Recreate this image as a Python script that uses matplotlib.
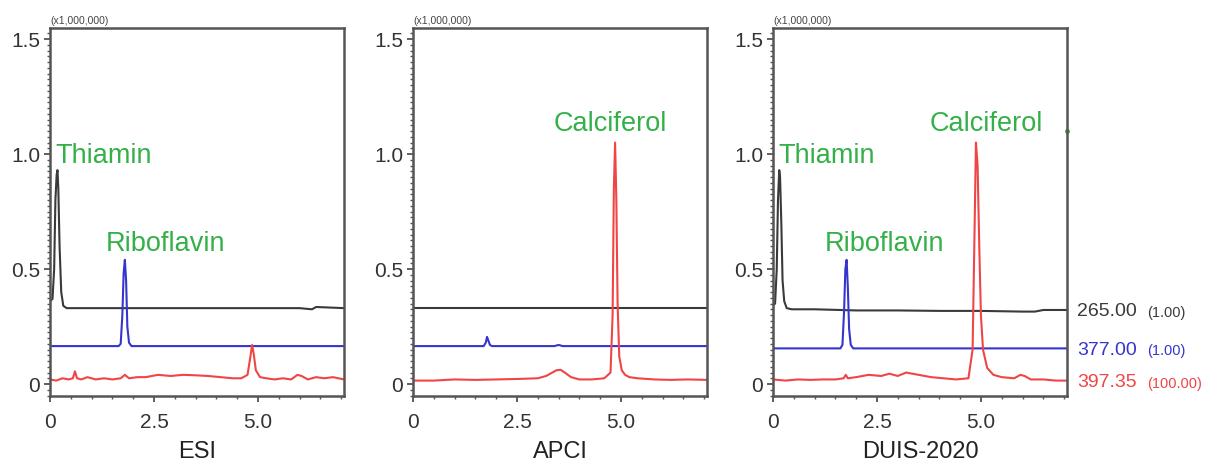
import numpy as np
import matplotlib
matplotlib.use('Agg')
import matplotlib.pyplot as plt
from matplotlib.ticker import MultipleLocator, FixedLocator

plt.rcParams['font.family'] = ['Liberation Sans', 'DejaVu Sans']

# retention time (min) / intensity (x1,000,000) breakpoints
panel_titles = ['ESI', 'APCI', 'DUIS-2020']

# --- ESI ---
esi_black_t = [0, 0.06, 0.1, 0.13, 0.16, 0.18, 0.2, 0.23, 0.27, 0.32, 0.4, 1.0, 2.0, 3.0, 4.0, 5.0, 6.0, 6.3, 6.4, 7.07]
esi_black_y = [0.36, 0.37, 0.5, 0.8, 0.91, 0.93, 0.85, 0.6, 0.4, 0.34, 0.33, 0.33, 0.33, 0.33, 0.33, 0.33, 0.33, 0.325, 0.335, 0.33]
esi_blue_t = [0, 1.65, 1.7, 1.74, 1.77, 1.8, 1.83, 1.86, 1.9, 1.96, 7.07]
esi_blue_y = [0.165, 0.165, 0.175, 0.3, 0.48, 0.54, 0.45, 0.25, 0.18, 0.165, 0.165]
esi_red_t = [0, 0.15, 0.3, 0.45, 0.55, 0.6, 0.65, 0.75, 0.9, 1.1, 1.3, 1.5, 1.7, 1.8, 1.9, 2.1, 2.3, 2.6, 2.9, 3.2,
             3.5, 3.8, 4.1, 4.4, 4.6, 4.75, 4.82, 4.86, 4.9, 4.95, 5.05, 5.2, 5.4, 5.6, 5.8, 5.95, 6.05, 6.2, 6.4, 6.6, 6.8, 7.07]
esi_red_y = [0.02, 0.015, 0.025, 0.02, 0.025, 0.055, 0.025, 0.02, 0.03, 0.02, 0.025, 0.02, 0.025, 0.04, 0.025, 0.03, 0.03, 0.04, 0.035, 0.04,
             0.038, 0.035, 0.03, 0.025, 0.025, 0.04, 0.12, 0.17, 0.13, 0.06, 0.03, 0.025, 0.02, 0.025, 0.02, 0.04, 0.035, 0.02, 0.03, 0.025, 0.03, 0.02]

# --- APCI ---
apci_black_t = [0, 7.07]
apci_black_y = [0.33, 0.33]
apci_blue_t = [0, 1.7, 1.75, 1.78, 1.81, 1.85, 1.9, 3.4, 3.5, 3.6, 7.07]
apci_blue_y = [0.165, 0.165, 0.18, 0.205, 0.19, 0.17, 0.165, 0.165, 0.17, 0.165, 0.165]
apci_red_t = [0, 0.5, 1.0, 1.5, 2.0, 2.5, 3.0, 3.2, 3.35, 3.45, 3.55, 3.65, 3.8, 4.0, 4.3, 4.6, 4.75, 4.8, 4.83, 4.86,
              4.89, 4.92, 4.96, 5.02, 5.1, 5.2, 5.4, 5.8, 6.2, 6.6, 7.07]
apci_red_y = [0.015, 0.015, 0.02, 0.018, 0.02, 0.022, 0.025, 0.035, 0.05, 0.06, 0.062, 0.05, 0.03, 0.02, 0.02, 0.025, 0.05, 0.3, 0.85, 1.05,
              0.8, 0.35, 0.12, 0.06, 0.04, 0.03, 0.025, 0.02, 0.018, 0.02, 0.018]

# --- DUIS-2020 ---
duis_black_t = [0, 0.05, 0.09, 0.12, 0.15, 0.17, 0.2, 0.23, 0.27, 0.33, 0.45, 1.0, 2.0, 3.0, 4.0, 5.0, 6.0, 6.3, 6.5, 7.07]
duis_black_y = [0.34, 0.35, 0.5, 0.8, 0.93, 0.9, 0.7, 0.45, 0.36, 0.33, 0.325, 0.325, 0.32, 0.32, 0.318, 0.318, 0.315, 0.315, 0.322, 0.322]
duis_blue_t = [0, 1.62, 1.67, 1.71, 1.74, 1.77, 1.8, 1.83, 1.87, 1.93, 7.07]
duis_blue_y = [0.155, 0.155, 0.17, 0.32, 0.5, 0.54, 0.42, 0.24, 0.17, 0.155, 0.155]
duis_red_t = [0, 0.3, 0.6, 0.9, 1.2, 1.5, 1.7, 1.75, 1.8, 2.0, 2.3, 2.6, 2.8, 3.0, 3.2, 3.35, 3.5, 3.8, 4.1, 4.4,
              4.7, 4.8, 4.85, 4.88, 4.92, 4.96, 5.0, 5.05, 5.15, 5.3, 5.5, 5.8, 5.95, 6.05, 6.2, 6.5, 6.8, 7.07]
duis_red_y = [0.02, 0.015, 0.02, 0.018, 0.02, 0.02, 0.025, 0.04, 0.025, 0.03, 0.04, 0.035, 0.045, 0.035, 0.05, 0.045, 0.04, 0.03, 0.025, 0.02,
              0.025, 0.15, 0.7, 1.05, 0.95, 0.6, 0.3, 0.15, 0.07, 0.04, 0.03, 0.025, 0.04, 0.035, 0.02, 0.02, 0.015, 0.015]

traces = [
    [(esi_black_t, esi_black_y), (esi_blue_t, esi_blue_y), (esi_red_t, esi_red_y)],
    [(apci_black_t, apci_black_y), (apci_blue_t, apci_blue_y), (apci_red_t, apci_red_y)],
    [(duis_black_t, duis_black_y), (duis_blue_t, duis_blue_y), (duis_red_t, duis_red_y)],
]

# compound labels: (text, x, y baseline) per panel
labels = [
    [('Thiamin', 0.12, 0.96), ('Riboflavin', 1.33, 0.58)],
    [('Calciferol', 3.38, 1.10)],
    [('Thiamin', 0.12, 0.96), ('Riboflavin', 1.25, 0.58), ('Calciferol', 3.77, 1.10)],
]

mz_labels = ['265.00', '377.00', '397.35']
mz_scales = ['(1.00)', '(1.00)', '(100.00)']
mz_ypos = [0.315, 0.148, 0.005]

trace_colors = ['#3a3a3a', '#3535cc', '#f04545']
green = '#33b048'

fig = plt.figure(figsize=(12.13, 4.65), dpi=100)
lefts = [50, 413, 773]
for i in range(3):
    ax = fig.add_axes([lefts[i] / 1213., 69 / 465., 294 / 1213., 368 / 465.])
    for (t, y), c in zip(traces[i], trace_colors):
        ax.plot(t, y, color=c, lw=1.5)
    for txt, x, y in labels[i]:
        ax.text(x, y, txt, color=green, fontsize=19.5, ha='left', va='baseline')
    ax.set_xlim(0, 7.07)
    ax.set_ylim(-0.052, 1.548)
    ax.xaxis.set_major_locator(FixedLocator([0, 2.5, 5.0]))
    ax.set_xticklabels(['0', '2.5', '5.0'])
    ax.xaxis.set_minor_locator(MultipleLocator(0.5))
    ax.yaxis.set_major_locator(FixedLocator([0, 0.5, 1.0, 1.5]))
    ax.set_yticklabels(['0', '0.5', '1.0', '1.5'])
    ax.yaxis.set_minor_locator(MultipleLocator(0.025))
    ax.tick_params(which='major', direction='out', length=4, width=1.2, labelsize=15,
                   colors='#444444', labelcolor='#333333', pad=3)
    ax.tick_params(which='minor', direction='out', length=2.5, width=1, colors='#555555')
    ax.tick_params(axis='x', which='major', pad=8)
    for s in ax.spines.values():
        s.set_color('#555555')
        s.set_linewidth(1.8)
    ax.set_xlabel(panel_titles[i], fontsize=17, color='#222222', labelpad=7)
    ax.text(0.0, 1.005, '(x1,000,000)', transform=ax.transAxes, fontsize=7.5, color='#444444',
            ha='left', va='bottom')
    if i == 2:
        for lab, sc, yp, c in zip(mz_labels, mz_scales, mz_ypos, trace_colors):
            ax.annotate(lab, xy=(1.0, yp), xycoords=('axes fraction', 'data'), xytext=(7, 0),
                        textcoords='offset points', fontsize=14, color=c, va='center', ha='left')
            ax.annotate(sc, xy=(1.0, yp), xycoords=('axes fraction', 'data'), xytext=(58, -1),
                        textcoords='offset points', fontsize=10.5, color=c, va='center', ha='left')
        ax.plot([7.07], [1.1], marker='o', ms=2.5, color=green, clip_on=False)

fig.savefig('out.png', dpi=100)
